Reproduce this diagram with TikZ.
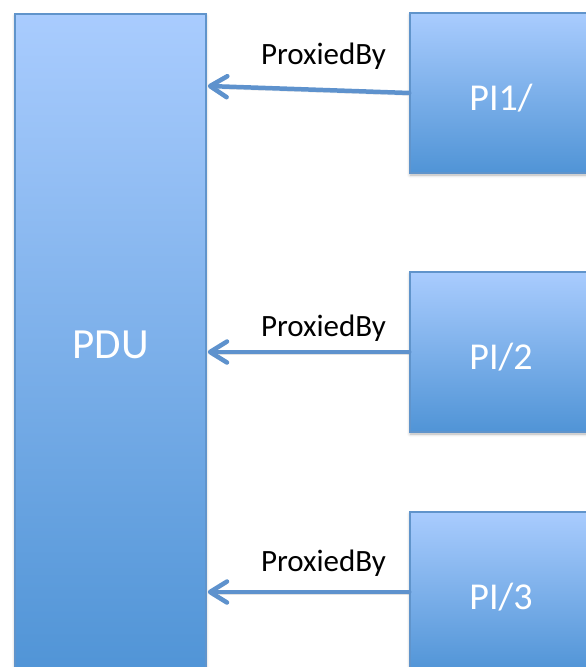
\documentclass[tikz,border=0pt]{standalone}
\usepackage{fontspec}
\setmainfont{Carlito}
\usetikzlibrary{arrows.meta,calc,shadows.blur}
\definecolor{boxtop}{HTML}{A9CCFE}
\definecolor{boxbot}{HTML}{5094D6}
\definecolor{boxline}{HTML}{6094CB}
\definecolor{linkblue}{HTML}{5E92CD}
\begin{document}
\begin{tikzpicture}[x=1pt,y=-1pt,
 block/.style={draw=boxline,line width=1.5pt,top color=boxtop,bottom color=boxbot,text=white,inner sep=0pt,
  blur shadow={shadow xshift=0pt,shadow yshift=-2pt,shadow blur radius=3pt,shadow opacity=30}},
 link/.style={draw=linkblue,line width=4.5pt,line cap=round,
  preaction={draw=black,opacity=0.12,transform canvas={yshift=-2.5pt}},
  -{Straight Barb[length=17pt,width=21pt,line cap=round,line join=round]}},
 tag/.style={font=\fontsize{31}{37}\selectfont,text=black,inner sep=3pt}]
\useasboundingbox (0,0) rectangle (586,667);
% proxy unit on the left, proxied items on the right
\node[block,minimum width=191pt,minimum height=661pt,font=\fontsize{43}{50}\selectfont](PDU) at (110.5,344.5){PDU};
\foreach \n/\t/\y in {PI1/{PI1/}/93,PI2/{PI/2}/352,PI3/{PI/3}/592}
 \node[block,minimum width=182pt,minimum height=160pt,font=\fontsize{38}{46}\selectfont](\n) at (501,\y){\raisebox{-17pt}[0pt][0pt]{\t}};
\draw[link](PI1.west)--node[tag,above=15pt,xshift=15pt]{ProxiedBy}($(PDU.east|-PI1.west)+(1,-7)$);
\draw[link](PI2.west)--node[tag,above=5pt,xshift=15pt]{ProxiedBy}($(PDU.east|-PI2.west)+(1,0)$);
\draw[link](PI3.west)--node[tag,above=10pt,xshift=15pt]{ProxiedBy}($(PDU.east|-PI3.west)+(1,0)$);
\end{tikzpicture}
\end{document}
